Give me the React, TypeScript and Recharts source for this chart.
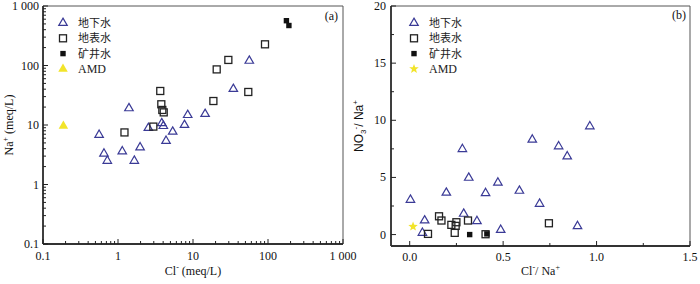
import React from "react";
import { ScatterChart, Scatter, XAxis, YAxis, ReferenceArea, Legend } from "recharts";

// (a) Na+ against Cl- (meq/L), log-log
const gwClA = [1.40, 0.56, 0.65, 0.72, 1.14, 1.97, 1.65, 2.54, 3.83, 4.02, 5.36, 4.37, 7.7, 8.5, 14.5, 34.5, 56.3];
const gwNaA = [19.1, 6.8, 3.3, 2.5, 3.6, 4.2, 2.5, 8.9, 10.7, 9.6, 7.7, 5.4, 10, 14.7, 15.3, 40.3, 120];
const swClA = [1.22, 2.96, 3.66, 3.78, 3.9, 4.07, 18.7, 20.7, 29.6, 54.6, 91.2];
const swNaA = [7.5, 9.4, 37.3, 22.3, 17.9, 16.3, 25.3, 86, 124, 35.9, 227];
const mineClA = [176, 190];
const mineNaA = [566, 470];
const amdClA = [0.187];
const amdNaA = [9.6];

// (b) NO3-/Na+ against Cl-/Na+
const gwClNaB = [0.004, 0.08, 0.068, 0.196, 0.282, 0.289, 0.316, 0.36, 0.406, 0.472, 0.487, 0.587, 0.695, 0.656, 0.797, 0.843, 0.898, 0.964];
const gwNoNaB = [3.04, 1.23, 0.15, 3.66, 7.48, 1.82, 4.97, 1.17, 3.62, 4.54, 0.41, 3.83, 2.69, 8.3, 7.72, 6.84, 0.73, 9.47];
const swClNaB = [0.098, 0.157, 0.17, 0.223, 0.25, 0.246, 0.241, 0.312, 0.406, 0.745];
const swNoNaB = [0.06, 1.6, 1.23, 0.85, 1.08, 0.76, 0.15, 1.23, 0.03, 0.99];
const mineClNaB = [0.321, 0.413];
const mineNoNaB = [0, 0.06];
const amdClNaB = [0.018];
const amdNoNaB = [0.7];

const legendNames = ["地下水", "地表水", "矿井水", "AMD"];

const logMajor = [0.1, 1, 10, 100, 1000];
const logMajorLabels = ["0.1", "1", "10", "100", "1 000"];
const logTicks = [0.1, 1, 10, 100].flatMap((d) => [1, 2, 3, 4, 5, 6, 7, 8, 9].map((m) => m * d)).concat([1000]);

const bxTicks = [0, 0.25, 0.5, 0.75, 1, 1.25, 1.5];
const bxLabels: Record<string, string> = { "0": "0.0", "0.5": "0.5", "1": "1.0", "1.5": "1.5" };
const byTicks = [0, 2.5, 5, 7.5, 10, 12.5, 15, 17.5, 20];
const byLabels: Record<string, string> = { "0": "0", "5": "5", "10": "10", "15": "15", "20": "20" };

const pts = (xs: number[], ys: number[]) => xs.map((x, i) => ({ x, y: ys[i] }));

const BLUE = "#3a3a96";
const YELLOW = "#f2e42a";
const INK = "#222";
const SERIF = "'Liberation Serif', 'Times New Roman', serif";
const CJK = "'Noto Sans CJK SC', sans-serif";

const triPath = (cx: number, cy: number, s: number) => {
  const h = s * 0.866;
  return `M${cx},${cy - (h * 2) / 3}L${cx + s / 2},${cy + h / 3}L${cx - s / 2},${cy + h / 3}Z`;
};
const starPath = (cx: number, cy: number, r: number) => {
  let d = "";
  for (let i = 0; i < 10; i++) {
    const rr = i % 2 === 0 ? r : r * 0.42;
    const a = -Math.PI / 2 + (i * Math.PI) / 5;
    d += `${i === 0 ? "M" : "L"}${cx + rr * Math.cos(a)},${cy + rr * Math.sin(a)}`;
  }
  return d + "Z";
};

const HollowTri = (p: any) => <path d={triPath(p.cx, p.cy, 8.5)} fill="none" stroke={BLUE} strokeWidth={1.2} />;
const HollowSq = (p: any) => <rect x={p.cx - 3.5} y={p.cy - 3.5} width={7} height={7} fill="none" stroke={INK} strokeWidth={1.3} />;
const SolidSq = (p: any) => <rect x={p.cx - 2.7} y={p.cy - 2.7} width={5.4} height={5.4} fill="#111" />;
const YellowTri = (p: any) => <path d={triPath(p.cx, p.cy, 9.5)} fill={YELLOW} />;
const YellowStar = (p: any) => <path d={starPath(p.cx, p.cy, 5)} fill={YELLOW} />;

const logLabel = (v: number) => {
  const i = logMajor.findIndex((m) => Math.abs(m - v) / m < 1e-6);
  return i >= 0 ? logMajorLabels[i] : null;
};

const XTickA = (p: any) => {
  const lab = logLabel(p.payload.value);
  return (
    <g>
      <line x1={p.x} x2={p.x} y1={p.y} y2={p.y - (lab ? 5 : 3)} stroke={INK} />
      {lab && (
        <text x={p.x} y={p.y + 16} textAnchor="middle" fontFamily={SERIF} fontSize={12} fill="#111">
          {lab}
        </text>
      )}
    </g>
  );
};
const YTickA = (p: any) => {
  const lab = logLabel(p.payload.value);
  return (
    <g>
      <line x1={p.x} x2={p.x + (lab ? 5 : 3)} y1={p.y} y2={p.y} stroke={INK} />
      {lab && (
        <text x={p.x - 4} y={p.y + 4} textAnchor="end" fontFamily={SERIF} fontSize={12} fill="#111">
          {lab}
        </text>
      )}
    </g>
  );
};
const XTickB = (p: any) => {
  const lab = bxLabels[String(p.payload.value)];
  return (
    <g>
      <line x1={p.x} x2={p.x} y1={p.y} y2={p.y - (lab ? 5 : 3)} stroke={INK} />
      {lab && (
        <text x={p.x} y={p.y + 15} textAnchor="middle" fontFamily={SERIF} fontSize={12} fill="#111">
          {lab}
        </text>
      )}
    </g>
  );
};
const YTickB = (p: any) => {
  const lab = byLabels[String(p.payload.value)];
  return (
    <g>
      <line x1={p.x} x2={p.x + (lab ? 5 : 3)} y1={p.y} y2={p.y} stroke={INK} />
      {lab && (
        <text x={p.x - 5} y={p.y + 4} textAnchor="end" fontFamily={SERIF} fontSize={12} fill="#111">
          {lab}
        </text>
      )}
    </g>
  );
};

const AxisTitle = (props: any) => {
  const vb = props.viewBox || {};
  const { which } = props;
  if (which === "ya" || which === "yb") {
    const cx = (vb.x ?? 0) + 13;
    const cy = (vb.y ?? 6) + (vb.height ?? 238) / 2;
    return (
      <text
        transform={`translate(${cx},${cy}) rotate(-90)`}
        textAnchor="middle"
        fontFamily={which === "ya" ? SERIF : "'Liberation Sans', Arial, sans-serif"}
        fontSize={12}
        fill="#111"
      >
        {which === "ya" ? (
          <>
            <tspan>Na</tspan>
            <tspan dy={-5} fontSize={8}>+</tspan>
            <tspan dy={5}> (meq/L)</tspan>
          </>
        ) : (
          <>
            <tspan>NO</tspan>
            <tspan dy={3} fontSize={8}>3</tspan>
            <tspan dy={-8} fontSize={8}>-</tspan>
            <tspan dy={5}>/ Na</tspan>
            <tspan dy={-5} fontSize={8}>+</tspan>
          </>
        )}
      </text>
    );
  }
  const cx = (vb.x ?? 43) + (vb.width ?? 300) / 2;
  const y = (vb.y ?? 244) + (which === "xa" ? 31 : 29);
  return (
    <text x={cx} y={y} textAnchor="middle" fontFamily={SERIF} fontSize={12} fill="#111">
      <tspan>Cl</tspan>
      <tspan dy={-5} fontSize={8}>-</tspan>
      <tspan dy={5}>{which === "xa" ? " (meq/L)" : "/ Na"}</tspan>
      {which === "xb" && <tspan dy={-5} fontSize={8}>+</tspan>}
    </text>
  );
};

const LegendBox = ({ star }: { star: boolean }) => {
  const rows = [8, 23.3, 38.6, 53.9];
  const syms = [
    <path key="s0" d={triPath(8, rows[0], 8.5)} fill="none" stroke={BLUE} strokeWidth={1.2} />,
    <rect key="s1" x={4.5} y={rows[1] - 3.5} width={7} height={7} fill="none" stroke={INK} strokeWidth={1.3} />,
    <rect key="s2" x={5.3} y={rows[2] - 2.7} width={5.4} height={5.4} fill="#111" />,
    star ? (
      <path key="s3" d={starPath(8, rows[3], 5)} fill={YELLOW} />
    ) : (
      <path key="s3" d={triPath(8, rows[3], 9.5)} fill={YELLOW} />
    ),
  ];
  return (
    <svg width={90} height={64} style={{ display: "block" }}>
      {syms}
      {legendNames.map((n, i) => (
        <text
          key={n}
          x={23}
          y={rows[i] + 4}
          fontFamily={n === "AMD" ? SERIF : CJK}
          fontSize={n === "AMD" ? 12 : 11}
          fill="#222"
        >
          {n}
        </text>
      ))}
    </svg>
  );
};

const axisLine = { stroke: "#333", strokeWidth: 1.8 };

export default function App() {
  return (
    <div style={{ position: "absolute", left: 0, top: 0, width: 700, height: 284, background: "#fff" }}>
      <div style={{ position: "absolute", left: 0, top: 0 }}>
        <ScatterChart width={380} height={284} margin={{ top: 6, right: 37, bottom: 0, left: 0 }}>
          <ReferenceArea
            x1={0.1}
            x2={1000}
            y1={0.1}
            y2={1000}
            fill="none"
            stroke="#555"
            strokeWidth={1}
            label={{ value: "(a)", position: "insideTopRight", offset: 5, fontFamily: SERIF, fontSize: 12, fill: "#111" }}
          />
          <XAxis
            dataKey="x"
            type="number"
            scale="log"
            domain={[0.1, 1000]}
            allowDataOverflow
            ticks={logTicks}
            interval={0}
            tickSize={0}
            tickMargin={0}
            tickLine={false}
            tick={XTickA}
            height={40}
            axisLine={axisLine}
            label={<AxisTitle which="xa" />}
          />
          <YAxis
            dataKey="y"
            type="number"
            scale="log"
            domain={[0.1, 1000]}
            allowDataOverflow
            ticks={logTicks}
            interval={0}
            tickSize={0}
            tickMargin={0}
            tickLine={false}
            tick={YTickA}
            width={43}
            axisLine={axisLine}
            label={<AxisTitle which="ya" />}
          />
          <Legend
            layout="horizontal"
            align="center"
            verticalAlign="middle"
            wrapperStyle={{ left: 55, top: 15, width: 90, height: 64 }}
            content={() => <LegendBox star={false} />}
          />
          <Scatter name="地下水" data={pts(gwClA, gwNaA)} shape={HollowTri} isAnimationActive={false} />
          <Scatter name="地表水" data={pts(swClA, swNaA)} shape={HollowSq} isAnimationActive={false} />
          <Scatter name="矿井水" data={pts(mineClA, mineNaA)} shape={SolidSq} isAnimationActive={false} />
          <Scatter name="AMD" data={pts(amdClA, amdNaA)} shape={YellowTri} isAnimationActive={false} />
        </ScatterChart>
      </div>
      <div style={{ position: "absolute", left: 350, top: 0 }}>
        <ScatterChart width={350} height={284} margin={{ top: 6, right: 10, bottom: 0, left: 0 }}>
          <ReferenceArea
            x1={-0.1}
            x2={1.5}
            y1={-1}
            y2={20}
            fill="none"
            stroke="#555"
            strokeWidth={1}
            label={{ value: "(b)", position: "insideTopRight", offset: 4, fontFamily: SERIF, fontSize: 12, fill: "#111" }}
          />
          <XAxis
            dataKey="x"
            type="number"
            domain={[-0.1, 1.5]}
            allowDataOverflow
            ticks={bxTicks}
            interval={0}
            tickSize={0}
            tickMargin={0}
            tickLine={false}
            tick={XTickB}
            height={38}
            axisLine={axisLine}
            label={<AxisTitle which="xb" />}
          />
          <YAxis
            dataKey="y"
            type="number"
            domain={[-1, 20]}
            allowDataOverflow
            ticks={byTicks}
            interval={0}
            tickSize={0}
            tickMargin={0}
            tickLine={false}
            tick={YTickB}
            width={41}
            axisLine={axisLine}
            label={<AxisTitle which="yb" />}
          />
          <Legend
            layout="horizontal"
            align="center"
            verticalAlign="middle"
            wrapperStyle={{ left: 56, top: 15, width: 90, height: 64 }}
            content={() => <LegendBox star={true} />}
          />
          <Scatter name="地下水" data={pts(gwClNaB, gwNoNaB)} shape={HollowTri} isAnimationActive={false} />
          <Scatter name="地表水" data={pts(swClNaB, swNoNaB)} shape={HollowSq} isAnimationActive={false} />
          <Scatter name="矿井水" data={pts(mineClNaB, mineNoNaB)} shape={SolidSq} isAnimationActive={false} />
          <Scatter name="AMD" data={pts(amdClNaB, amdNoNaB)} shape={YellowStar} isAnimationActive={false} />
        </ScatterChart>
      </div>
    </div>
  );
}
